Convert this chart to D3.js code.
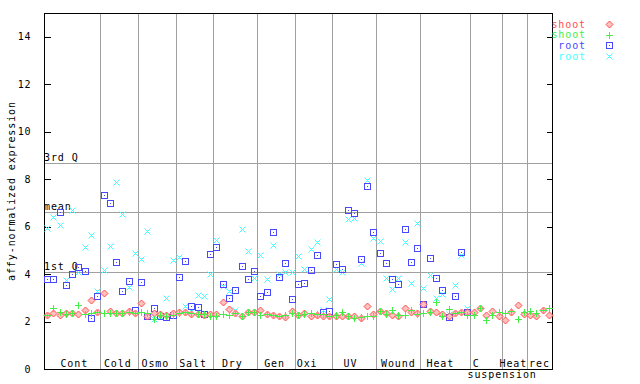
<!DOCTYPE html>
<html><head><meta charset="utf-8">
<script src="https://cdn.jsdelivr.net/npm/d3@7"></script>
<style>
body{margin:0;background:#fff;}
svg text{font-family:"DejaVu Sans Mono",monospace;font-size:10px;letter-spacing:0.9px;}
</style></head>
<body><svg id="c" width="640" height="384"></svg>
<script>
// ---- data ----
const categories = ["Cont","Cold","Osmo","Salt","Dry","Gen","Oxi","UV","Wound","Heat","C","Heat","rec"];
const categoryCounts = [9,6,6,6,7,6,6,7,7,8,5,4,4];
const subLabel = "suspension";
const yTicks = [0,2,4,6,8,10,12,14];
const refLabels = ["3rd Q","mean","1st Q"];
const refValues = [8.68, 6.62, 4.08];
const seriesNames = ["shoot","shoot","root","root"];
const shootRed = [2.26,2.35,2.26,2.34,2.34,2.30,2.48,2.92,2.40,
 3.20,2.44,2.36,2.36,2.44,2.36,
 2.78,2.25,2.36,2.33,2.26,2.36,
 2.39,2.39,2.33,2.33,2.29,2.33,
 2.33,2.82,2.53,2.36,2.25,2.39,2.39,
 2.47,2.30,2.28,2.25,2.19,2.44,
 2.28,2.36,2.25,2.28,2.22,2.25,
 2.25,2.22,2.25,2.22,2.16,2.65,2.32,
 2.43,2.36,2.28,2.22,2.58,2.39,2.36,
 2.72,2.43,2.39,2.32,2.22,2.36,2.39,2.40,
 2.39,2.58,2.28,2.44,2.22,
 2.06,2.39,2.70,2.30,
 2.28,2.25,2.50,2.28];
const shootGreen = [2.29,2.57,2.39,2.33,2.35,2.68,2.32,2.36,2.39,
 2.35,2.36,2.36,2.36,2.40,2.36,
 2.39,2.36,2.11,2.29,2.22,2.28,
 2.36,2.42,2.36,2.33,2.32,2.25,
 2.25,2.32,2.28,2.36,2.22,2.39,2.39,
 2.28,2.32,2.28,2.25,2.28,2.36,
 2.28,2.33,2.36,2.33,2.33,2.22,
 2.28,2.39,2.25,2.16,2.19,2.25,2.25,
 2.44,2.33,2.47,2.28,2.28,2.47,2.32,
 2.36,2.42,2.82,2.22,2.53,2.36,2.39,2.28,
 2.28,2.56,2.06,2.28,2.39,
 2.36,2.44,2.11,2.42,
 2.44,2.36,2.50,2.58];
const rootBlue = [3.79,3.79,6.63,3.54,4.00,4.30,4.13,2.15,3.08,
 7.33,6.99,4.51,3.29,3.71,2.47,
 3.67,2.22,2.57,2.22,2.19,2.28,
 3.88,4.55,2.64,2.61,2.32,4.85,
 5.14,3.58,2.99,3.33,4.34,3.79,4.13,
 3.08,3.24,5.77,3.88,4.47,2.95,
 3.58,3.62,4.17,4.80,2.40,2.44,
 4.42,4.21,6.70,6.57,4.64,7.71,5.77,
 4.89,4.47,3.79,3.58,5.90,4.51,5.10,
 2.74,4.68,3.83,3.33,2.19,3.08,4.93,2.40];
const rootCyan = [5.94,6.41,6.07,3.75,6.70,4.10,5.14,5.65,3.29,
 4.19,5.18,7.88,6.53,3.45,4.89,
 4.64,5.82,2.12,2.25,2.99,4.59,
 4.72,2.64,2.43,3.10,3.06,4.00,
 5.44,3.50,3.27,2.50,5.90,4.97,3.83,
 4.80,3.79,5.23,4.00,4.09,4.09,
 4.76,4.21,5.06,5.35,2.50,2.95,
 4.21,4.09,6.32,6.35,4.47,7.97,5.52,
 5.39,3.83,3.37,3.83,5.35,3.62,6.15,
 3.41,3.96,2.99,3.16,2.33,3.54,4.80,2.57];

// ---- layout ----
const L=44, R=552, T=13, B=369;
const colors = ["#ff4d4d","#44ee44","#4848ff","#44ffff"];
const shapes = ["diamond","plus","square","cross"];
const nSamples = d3.sum(categoryCounts);
const x = d3.scaleLinear().domain([0,nSamples]).range([L,R]);
const y = d3.scaleLinear().domain([0,15]).range([B,T]);
const svg = d3.select("#c");

const starts = []; let acc=0;
categoryCounts.forEach(c=>{starts.push(acc); acc+=c;});
const sepG = svg.append("g").attr("stroke","#a0a0a0").attr("stroke-width",1).attr("shape-rendering","crispEdges");
starts.slice(1).forEach(s=>{
  sepG.append("line").attr("x1",Math.round(x(s))+0.5).attr("x2",Math.round(x(s))+0.5).attr("y1",T).attr("y2",B);
});
refValues.forEach((v,i)=>{
  const yy=Math.round(y(v))+0.5;
  sepG.append("line").attr("x1",L).attr("x2",R).attr("y1",yy).attr("y2",yy);
  svg.append("text").attr("x",L).attr("y",yy-3).attr("fill","#000").text(refLabels[i]);
});

svg.append("rect").attr("x",L+0.5).attr("y",T+0.5).attr("width",R-L).attr("height",B-T)
  .attr("fill","none").attr("stroke","#000").attr("shape-rendering","crispEdges");

const yAxisL = d3.axisLeft(y).tickValues(yTicks).tickSize(-6).tickPadding(13).tickFormat(d3.format("d"));
const gl = svg.append("g").attr("transform",`translate(${L+0.5},0)`).call(yAxisL);
gl.select(".domain").remove();
gl.selectAll("text").attr("font-family","DejaVu Sans Mono").attr("font-size",10).attr("fill","#000");
const yAxisR = d3.axisRight(y).tickValues(yTicks.filter(v=>v>0)).tickSize(-6).tickFormat("");
const gr = svg.append("g").attr("transform",`translate(${R+0.5},0)`).call(yAxisR);
gr.select(".domain").remove();
svg.selectAll(".tick line").attr("shape-rendering","crispEdges");

svg.append("text").attr("transform",`translate(15,${(T+B)/2}) rotate(-90)`).attr("text-anchor","middle").text("affy-normalized expression");

const labelDx = [2,-1.5,-1.5,-1.5,-3,-1.5,-6.5,-4,0,-5,-10,-1,0];
categories.forEach((c,i)=>{
  const cx = x(starts[i]+categoryCounts[i]/2)+labelDx[i];
  svg.append("text").attr("x",cx).attr("y",367).attr("text-anchor","middle").text(c);
});
const cIdx = 10;
svg.append("text").attr("x",x(starts[cIdx]+categoryCounts[cIdx]/2)+16).attr("y",378).attr("text-anchor","middle").text(subLabel);

function drawMarker(g, shape, cx, cy, col){
  cx=Math.round(cx)+0.5; cy=Math.round(cy)+0.5;
  if(shape==="diamond"){
    g.append("path").attr("d",`M${cx},${cy-3.5}L${cx+3.5},${cy}L${cx},${cy+3.5}L${cx-3.5},${cy}Z`)
      .attr("fill","#ffc0c0").attr("stroke",col).attr("stroke-width",1);
  } else if(shape==="plus"){
    g.append("path").attr("d",`M${cx-3.5},${cy}H${cx+3.5}M${cx},${cy-3.5}V${cy+3.5}`).attr("stroke",col).attr("stroke-width",1)
      .attr("fill","none").attr("shape-rendering","crispEdges");
  } else if(shape==="square"){
    g.append("rect").attr("x",cx-3).attr("y",cy-3).attr("width",6).attr("height",6).attr("fill","none").attr("stroke",col)
      .attr("stroke-width",1).attr("shape-rendering","crispEdges");
    g.append("rect").attr("x",cx-0.5).attr("y",cy-0.5).attr("width",1).attr("height",1).attr("fill",col);
  } else {
    g.append("path").attr("d",`M${cx-3},${cy-3}L${cx+3},${cy+3}M${cx-3},${cy+3}L${cx+3},${cy-3}`).attr("stroke",col).attr("stroke-width",1).attr("fill","none");
  }
}
const allSeries = [shootRed, shootGreen, rootBlue, rootCyan];
const ptsG = svg.append("g");
[3,2,0,1].forEach(si=>{
  allSeries[si].forEach((v,i)=>{ drawMarker(ptsG, shapes[si], x(i+0.5), y(v), colors[si]); });
});

seriesNames.forEach((n,i)=>{
  const ly = 24 + i*10.7;
  svg.append("text").attr("x",586).attr("y",ly+3.5).attr("text-anchor","end").attr("fill",colors[i]).text(n);
  drawMarker(svg, shapes[i], 609, ly, colors[i]);
});
</script></body></html>
